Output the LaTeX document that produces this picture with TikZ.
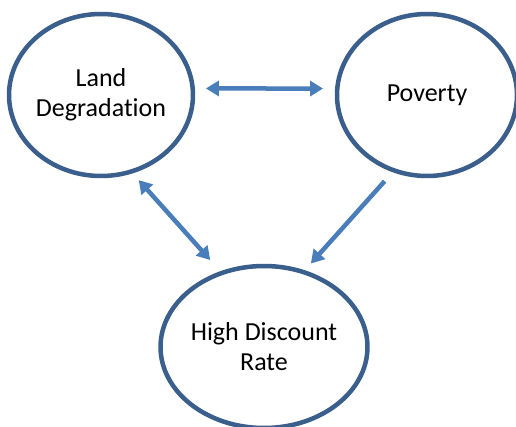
\documentclass[tikz,border=0pt]{standalone}
\usepackage{fontspec}
\setmainfont{Carlito}[RawFeature={-liga;-calt;-clig}]
\usetikzlibrary{shapes.geometric,arrows.meta}
\definecolor{ringblue}{HTML}{3A5F8C}
\definecolor{arrowblue}{HTML}{4A7EBB}

\begin{document}
\begin{tikzpicture}[x = 1pt, y = 1pt,
  factor/.style = {ellipse, draw = ringblue, line width = 4.5pt, fill = white,
    minimum width = 180pt, minimum height = 162pt, inner sep = 0pt,
    align = center, font = \fontsize{26}{30}\selectfont},
  link/.style = {draw = arrowblue, line width = 4.5pt, -{Triangle[length = 13pt, width = 15pt]}},
  twoway/.style = {link, {Triangle[length = 13pt, width = 15pt]}-{Triangle[length = 13pt, width = 15pt]}}]
\useasboundingbox (0,0) rectangle (516,426);
\node [factor] (land) at (101,331) {Land\\Degradation};
\node [factor] (poverty) at (427,331) {Poverty};
\node [factor] (discount) at (264,79) {High Discount\\Rate}; % cut by the lower edge
\draw [twoway, shorten <= 11pt, shorten >= 12pt] (land.4) -- (poverty.176);
\draw [twoway, shorten <= 9pt, shorten >= 15pt] (land.-68) -- (discount.120);
\draw [link, shorten <= 12pt, shorten >= 9pt] (poverty.-114) -- (discount.62);
\end{tikzpicture}
\end{document}
